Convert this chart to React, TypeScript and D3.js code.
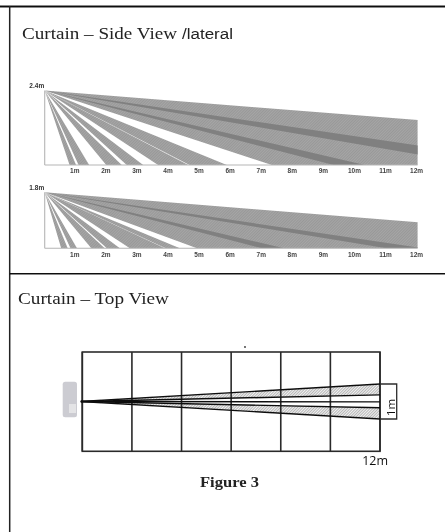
import React from "react";
import * as d3 from "d3";

// Distance labels along the floor, in metres
const distanceTicks = [1, 2, 3, 4, 5, 6, 7, 8, 9, 10, 11, 12];

// Each beam: [near, far] floor reach in metres, measured along rays from the sensor
const beams24: [number, number][] = [
  [0.8, 1.01], [1.09, 1.43], [1.98, 2.48], [2.64, 3.17],
  [3.65, 4.62], [4.66, 5.86], [7.31, 30.3],
];
const darkBands24: [number, number][] = [[14.0, 16.3], [9.3, 10.3]];

const beams18: [number, number][] = [
  [0.53, 0.74], [0.83, 1.04], [1.5, 1.93], [2.0, 2.42],
  [2.74, 3.87], [3.89, 4.35], [4.9, 22.4],
];
const darkBands18: [number, number][] = [[11.0, 12.2], [7.0, 7.7]];

// Top view: lateral offset in metres of each ray at 12 m
const topRays = [-0.5, -0.19, 0.01, 0.18, 0.5];
const topHatched: [number, number][] = [[-0.5, -0.19], [0.18, 0.5]];
const gridMetres = [0, 2, 4, 6, 8, 10, 12];

const serif = "'Liberation Serif', serif";
const sans = "'Liberation Sans', sans-serif";

function SideView({ id, height, label, top, base, beams, bands, labelOffset }: {
  id: string; height: number; label: string; top: number; base: number;
  beams: [number, number][]; bands: [number, number][]; labelOffset: number;
}) {
  const x = d3.scaleLinear().domain([0, 12]).range([44.7, 417.6]);
  const y = d3.scaleLinear().domain([0, height]).range([base, top]);
  const line = d3.line<[number, number]>().x((d) => x(d[0])).y((d) => y(d[1]));
  const tri = ([a, b]: [number, number]) =>
    line([[0, height], [a, 0], [b, 0]]) + "Z";
  return (
    <g>
      <clipPath id={id}>
        <rect x={x(0)} y={y(height) - 1} width={x(12) - x(0)} height={y(0) - y(height) + 1} />
      </clipPath>
      <g clipPath={`url(#${id})`}>
        {beams.map((b, i) => <path key={i} d={tri(b)} fill="url(#beamHatch)" />)}
        {bands.map((b, i) => <path key={i} d={tri(b)} fill="#808080" />)}
      </g>
      <line x1={x(0)} x2={x(0)} y1={y(height)} y2={y(0)} stroke="#b5b5b5" strokeWidth={1.1} />
      <line x1={x(0)} x2={x(12)} y1={y(0)} y2={y(0)} stroke="#b5b5b5" strokeWidth={1.1} />
      <text x={x(0) - 0.5} y={y(height) - 2.5} textAnchor="end" fontFamily={sans} fontSize={6.5} fontWeight="bold" fill="#333">{label}</text>
      {distanceTicks.map((t) => (
        <text key={t} x={x(t) - 1} y={y(0) + labelOffset} textAnchor="middle" fontFamily={sans} fontSize={6.5} fontWeight="bold" fill="#444">{t}m</text>
      ))}
    </g>
  );
}

function TopView() {
  const x = d3.scaleLinear().domain([0, 12]).range([82.3, 380]);
  const y = d3.scaleLinear().domain([-0.5, 0.5]).range([384, 419]);
  const gridTop = 352;
  const gridBottom = 451.3;
  const cy = y(0);
  const ink = "#2b2b2b";
  return (
    <g>
      {topHatched.map(([a, b], i) => (
        <path key={i} d={d3.line()([[x(0), cy], [x(12), y(a)], [x(12), y(b)]]) + "Z"} fill="url(#topHatch)" />
      ))}
      {gridMetres.map((m) => (
        <line key={m} x1={x(m)} x2={x(m)} y1={gridTop} y2={gridBottom} stroke={ink} strokeWidth={1.6} />
      ))}
      <rect x={x(0)} y={gridTop} width={x(12) - x(0)} height={gridBottom - gridTop} fill="none" stroke={ink} strokeWidth={1.6} />
      {topRays.map((r, i) => (
        <line key={i} x1={x(0) - 1.5} y1={cy} x2={x(12)} y2={y(r)} stroke="#111" strokeWidth={1.4} />
      ))}
      <path d={`M${x(12)},${y(-0.5)}H${x(12) + 16.7}V${y(0.5)}H${x(12)}`} fill="none" stroke={ink} strokeWidth={1.3} />
      <text transform={`translate(${x(12) + 15},${(y(-0.5) + y(0.5)) / 2 + 6}) rotate(-90)`} textAnchor="middle" fontFamily="'Open Sans', sans-serif" fontSize={11.5} fill="#111">1m</text>
      <text x={x(12) + 8} y={465} textAnchor="end" fontFamily="'Open Sans', sans-serif" fontSize={12.5} fill="#111">12m</text>
      <circle cx={245} cy={347} r={0.9} fill="#333" />
      {/* sensor housing */}
      <rect x={62.7} y={381.7} width={14.3} height={35.5} rx={2.5} fill="#ccccd2" />
      <rect x={69} y={404} width={7} height={9} fill="#e4e4e6" />
    </g>
  );
}

export default function App() {
  return (
    <svg width={445} height={532} viewBox="0 0 445 532" style={{ position: "absolute", left: 0, top: 0, display: "block" }}>
      <defs>
        <pattern id="beamHatch" width={2} height={2} patternUnits="userSpaceOnUse" patternTransform="rotate(45)">
          <rect width={2} height={2} fill="#a6a6a6" />
          <rect width={0.8} height={2} fill="#949494" />
        </pattern>
        <pattern id="topHatch" width={2} height={2} patternUnits="userSpaceOnUse" patternTransform="rotate(45)">
          <rect width={2} height={2} fill="#f2f2f2" />
          <rect width={0.8} height={2} fill="#a8a8a8" />
        </pattern>
        <filter id="soft" x="0" y="0" width="100%" height="100%" filterUnits="userSpaceOnUse" primitiveUnits="userSpaceOnUse">
          <feGaussianBlur stdDeviation={0.35} />
        </filter>
      </defs>
      <rect width={445} height={532} fill="#fff" />
      <g filter="url(#soft)">
        <line x1={0} x2={445} y1={6.5} y2={6.5} stroke="#111" strokeWidth={2} />
        <line x1={9.7} x2={9.7} y1={6} y2={532} stroke="#222" strokeWidth={1.5} />
        <line x1={9.7} x2={445} y1={273.7} y2={273.7} stroke="#111" strokeWidth={1.6} />

        <text x={22} y={39} fontFamily={serif} fontSize={16.5} fill="#222" textLength={155} lengthAdjust="spacingAndGlyphs">Curtain – Side View</text>
        <text x={182} y={39} fontFamily={sans} fontSize={14} fill="#222" textLength={51} lengthAdjust="spacingAndGlyphs">/lateral</text>
        <text x={18} y={304} fontFamily={serif} fontSize={16.5} fill="#222" textLength={151} lengthAdjust="spacingAndGlyphs">Curtain – Top View</text>
        <text x={200} y={486.5} fontFamily={serif} fontSize={14} fontWeight="bold" fill="#222" textLength={59} lengthAdjust="spacingAndGlyphs">Figure 3</text>

        <SideView id="c24" height={2.4} label="2.4m" top={90.6} base={165} beams={beams24} bands={darkBands24} labelOffset={7.5} />
        <SideView id="c18" height={1.8} label="1.8m" top={192.3} base={248.3} beams={beams18} bands={darkBands18} labelOffset={8.5} />
        <TopView />
      </g>
    </svg>
  );
}
